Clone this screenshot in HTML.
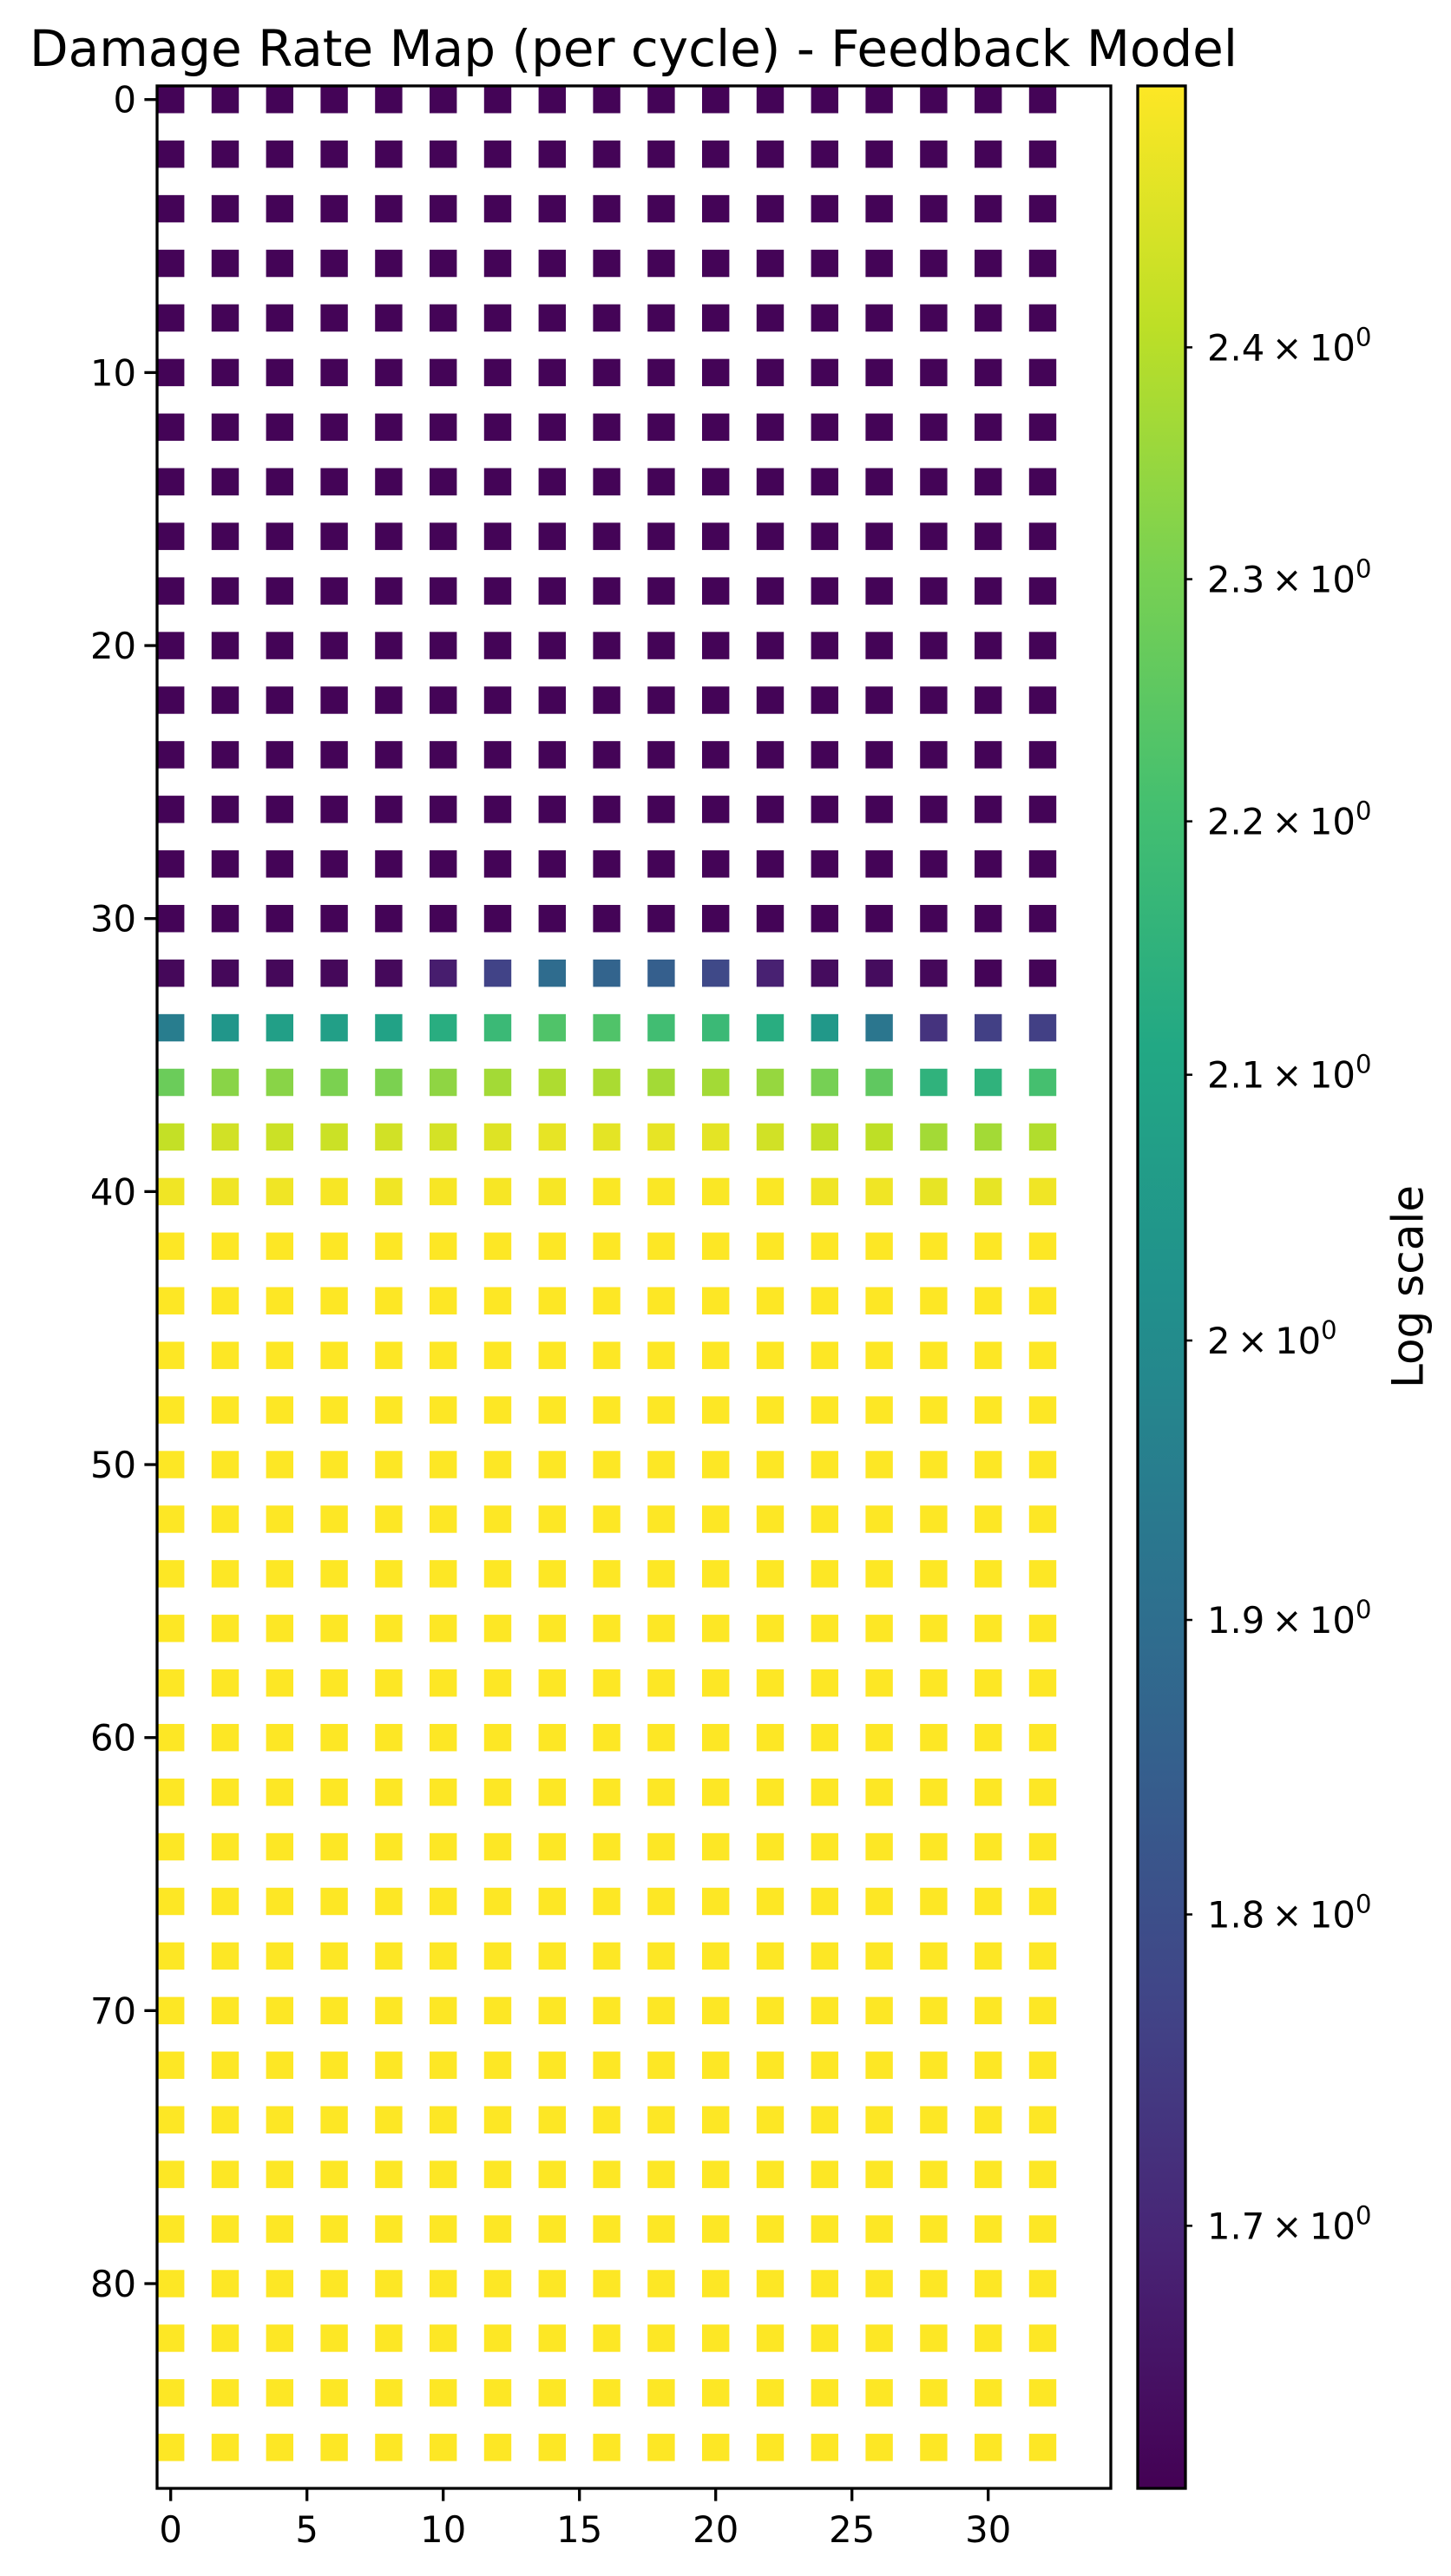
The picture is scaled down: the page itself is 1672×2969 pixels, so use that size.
<!DOCTYPE html>
<html><head><meta charset="utf-8">
<style>
html,body{margin:0;padding:0;background:#fff;}
svg{display:block;font-family:"DejaVu Sans","Liberation Sans",sans-serif;}
</style></head>
<body>
<svg id="chart" width="1672" height="2969" viewBox="0 0 1672 2969" xmlns="http://www.w3.org/2000/svg">
<defs>
<linearGradient id="vir" x1="0" y1="1" x2="0" y2="0">
<stop offset="0" stop-color="#440154"/><stop offset="0.1" stop-color="#482475"/><stop offset="0.2" stop-color="#414487"/><stop offset="0.3" stop-color="#355f8d"/><stop offset="0.4" stop-color="#2a788e"/><stop offset="0.5" stop-color="#21918c"/><stop offset="0.6" stop-color="#22a884"/><stop offset="0.7" stop-color="#44bf70"/><stop offset="0.8" stop-color="#7ad151"/><stop offset="0.9" stop-color="#bddf26"/><stop offset="1" stop-color="#fde725"/>
</linearGradient>
</defs>
<text x="730" y="76" font-size="58" text-anchor="middle">Damage Rate Map (per cycle) - Feedback Model</text>
<g id="cells"></g>
<rect x="181" y="99" width="1099" height="2769" fill="none" stroke="#000" stroke-width="3.3"/>
<g id="xticks"></g>
<g id="yticks"></g>
<rect x="1311" y="99" width="55" height="2769" fill="url(#vir)" stroke="#000" stroke-width="3.3"/>
<g id="cticks"></g>
<text x="1626" y="1483" font-size="50" text-anchor="middle" transform="rotate(-90 1626 1483)" dominant-baseline="middle">Log scale</text>
</svg>
<script>
const xCategories = [0,2,4,6,8,10,12,14,16,18,20,22,24,26,28,30,32];
const yCategories = [0,2,4,6,8,10,12,14,16,18,20,22,24,26,28,30,32,34,36,38,40,42,44,46,48,50,52,54,56,58,60,62,64,66,68,70,72,74,76,78,80,82,84,86];
const darkRow = [1.627,1.627,1.627,1.627,1.627,1.627,1.627,1.627,1.627,1.627,1.627,1.627,1.627,1.627,1.627,1.627,1.627];
const row32 = [1.634,1.634,1.634,1.634,1.636,1.678,1.768,1.892,1.866,1.849,1.784,1.686,1.642,1.642,1.634,1.627,1.627];
const row34 = [1.951,2.039,2.076,2.076,2.085,2.131,2.179,2.227,2.227,2.198,2.179,2.131,2.048,1.925,1.729,1.760,1.760];
const row36 = [2.277,2.328,2.328,2.307,2.307,2.338,2.369,2.385,2.380,2.369,2.369,2.348,2.297,2.257,2.150,2.150,2.208];
const row38 = [2.421,2.442,2.432,2.432,2.442,2.448,2.464,2.480,2.475,2.480,2.475,2.442,2.421,2.411,2.369,2.369,2.391];
const row40 = [2.496,2.496,2.496,2.507,2.496,2.507,2.507,2.507,2.513,2.513,2.513,2.513,2.496,2.496,2.480,2.480,2.496];
const yellowRow = [2.518,2.518,2.518,2.518,2.518,2.518,2.518,2.518,2.518,2.518,2.518,2.518,2.518,2.518,2.518,2.518,2.518];
const rateRows = [darkRow,darkRow,darkRow,darkRow,darkRow,darkRow,darkRow,darkRow,darkRow,darkRow,darkRow,darkRow,darkRow,darkRow,darkRow,darkRow,
 row32,row34,row36,row38,row40,
 yellowRow,yellowRow,yellowRow,yellowRow,yellowRow,yellowRow,yellowRow,yellowRow,yellowRow,yellowRow,yellowRow,yellowRow,yellowRow,yellowRow,yellowRow,yellowRow,yellowRow,yellowRow,yellowRow,yellowRow,yellowRow,yellowRow,yellowRow];
const xTickValues = [0,5,10,15,20,25,30];
const yTickValues = [0,10,20,30,40,50,60,70,80];
const cbarTickValues = [1.7,1.8,1.9,2.0,2.1,2.2,2.3,2.4];
const cbarTickLabels = ["1.7","1.8","1.9","2","2.1","2.2","2.3","2.4"];
const vMin = 1.620, vMax = 2.518;

const NS = "http://www.w3.org/2000/svg";
const L = 181, R = 1280, T = 99, B = 2868;
const xScale = v => L + (v + 0.5) / 35 * (R - L);
const yScale = v => T + (v + 0.5) / 88 * (B - T);
const cScale = v => T + (Math.log(vMax) - Math.log(v)) / (Math.log(vMax) - Math.log(vMin)) * (B - T);
const stops = [[0,[68,1,84]],[0.1,[72,36,117]],[0.2,[65,68,135]],[0.3,[53,95,141]],[0.4,[42,120,142]],[0.5,[33,145,140]],[0.6,[34,168,132]],[0.7,[68,191,112]],[0.8,[122,209,81]],[0.9,[189,223,38]],[1,[253,231,37]]];
function viridis(t){
  t = Math.max(0, Math.min(1, t));
  for (let i = 1; i < stops.length; i++) {
    if (t <= stops[i][0]) {
      const a = stops[i-1], b = stops[i], f = (t - a[0]) / (b[0] - a[0]);
      const c = a[1].map((x, k) => Math.round(x + f * (b[1][k] - x)));
      return `rgb(${c[0]},${c[1]},${c[2]})`;
    }
  }
  return "rgb(253,231,37)";
}
function mk(tag, attrs, parent){
  const e = document.createElementNS(NS, tag);
  for (const k in attrs) e.setAttribute(k, attrs[k]);
  parent.appendChild(e);
  return e;
}
const cells = document.getElementById('cells');
yCategories.forEach((yv, ri) => {
  xCategories.forEach((xv, ci) => {
    const v = rateRows[ri][ci];
    const t = (Math.log(v) - Math.log(vMin)) / (Math.log(vMax) - Math.log(vMin));
    const x0 = xScale(xv - 0.5), y0 = yScale(yv - 0.5);
    const r = mk('rect', {x: x0.toFixed(2), y: y0.toFixed(2), width: (xScale(xv + 0.5) - x0).toFixed(2), height: (yScale(yv + 0.5) - y0).toFixed(2), fill: viridis(t)}, cells);
    
    
  });
});
const xg = document.getElementById('xticks');
xTickValues.forEach(v => {
  const x = xScale(v);
  const tk = mk('line', {x1: x, x2: x, y1: B, y2: B + 14.6, stroke: '#000', 'stroke-width': 3.3}, xg);
  
  
  const tx = mk('text', {x: x, y: 2930, 'font-size': 41.7, 'text-anchor': 'middle'}, xg);
  tx.textContent = v;
  
  
});
const yg = document.getElementById('yticks');
yTickValues.forEach(v => {
  const y = yScale(v);
  const tk = mk('line', {x1: L - 14.6, x2: L, y1: y, y2: y, stroke: '#000', 'stroke-width': 3.3}, yg);
  
  
  const tx = mk('text', {x: 157, y: y + 15, 'font-size': 41.7, 'text-anchor': 'end'}, yg);
  tx.textContent = v;
  
  
});
const cg = document.getElementById('cticks');
cbarTickValues.forEach((v, i) => {
  const y = cScale(v);
  const tk = mk('line', {x1: 1366, x2: 1374, y1: y, y2: y, stroke: '#000', 'stroke-width': 2.5}, cg);
  
  
  const tx = mk('text', {x: 1391, y: y + 15, 'font-size': 41.7}, cg);
  
  
  const t1 = mk('tspan', {}, tx); t1.textContent = cbarTickLabels[i] + '\u2009\u00d7\u200910';
  const t2 = mk('tspan', {dy: -17, 'font-size': 29}, tx); t2.textContent = '0';
});
</script>
</body></html>
